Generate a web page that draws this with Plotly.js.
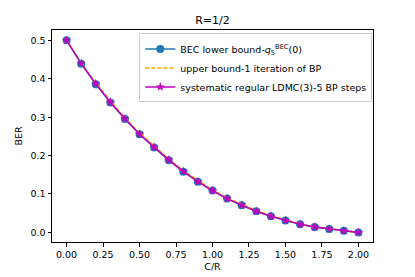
<!DOCTYPE html>
<html>
<head>
<meta charset="utf-8">
<script src="https://cdn.plot.ly/plotly-3.0.1.min.js"></script>
<style>html,body{margin:0;padding:0;background:#fff;}#chart{width:415px;height:277px;}</style>
</head>
<body>
<div id="chart"></div>
<script>
const cr = [0.0,0.1,0.2,0.3,0.4,0.5,0.6,0.7,0.8,0.9,1.0,1.1,1.2,1.3,1.4,1.5,1.6,1.7,1.8,1.9,2.0];
const becLower = [0.5,0.439,0.386,0.338,0.295,0.2555,0.221,0.188,0.158,0.132,0.109,0.088,0.0706,0.055,0.042,0.031,0.021,0.014,0.009,0.004,0.0];
const upperBound = [0.5,0.441,0.389,0.342,0.298,0.259,0.224,0.191,0.161,0.135,0.111,0.090,0.073,0.057,0.044,0.032,0.022,0.015,0.009,0.004,0.0];
const ldmc = [0.5,0.44,0.387,0.339,0.296,0.256,0.222,0.189,0.159,0.132,0.109,0.088,0.071,0.055,0.042,0.031,0.021,0.014,0.009,0.004,0.0];
const xTicks = [0,0.25,0.5,0.75,1.0,1.25,1.5,1.75,2.0];
const xTickText = ['0.00','0.25','0.50','0.75','1.00','1.25','1.50','1.75','2.00'];
const yTicks = [0,0.1,0.2,0.3,0.4,0.5];
const yTickText = ['0.0','0.1','0.2','0.3','0.4','0.5'];

const traces = [
  {x: cr, y: becLower, mode: 'lines+markers', name: 'BEC lower bound-<i>q</i><sub>5</sub><sup>BEC</sup>(0)',
   line: {color: '#1f77b4', width: 1.5}, marker: {symbol: 'circle', size: 8, color: '#1f77b4'}},
  {x: cr, y: upperBound, mode: 'lines', name: 'upper bound-1 iteration of BP',
   line: {color: '#ffa500', width: 1.5, dash: '4px,2px'}},
  {x: cr, y: ldmc, mode: 'lines+markers', name: 'systematic regular LDMC(3)-5 BP steps',
   line: {color: '#bf00bf', width: 1.5}, marker: {symbol: 'star', size: 7, color: '#bf00bf'}}
];

const axisCommon = {showline: true, linecolor: '#000', linewidth: 1, mirror: true, ticks: 'outside',
  ticklen: 3.5, tickwidth: 1, tickcolor: '#000', showgrid: false, zeroline: false,
  tickfont: {size: 9.5, color: '#000'}};

const layout = {
  width: 415, height: 277,
  margin: {l: 52, r: 42, t: 30, b: 35},
  paper_bgcolor: '#fff', plot_bgcolor: '#fff',
  font: {family: 'DejaVu Sans', size: 9.5, color: '#000'},
  title: {text: 'R=1/2', font: {size: 11, color: '#000'}, x: 0.5, xref: 'paper', xanchor: 'center', y: 0.928, yref: 'container', yanchor: 'middle'},
  xaxis: Object.assign({}, axisCommon, {range: [-0.1, 2.1], tickvals: xTicks, ticktext: xTickText,
    title: {text: 'C/R', font: {size: 9.5}, standoff: 4}}),
  yaxis: Object.assign({}, axisCommon, {range: [-0.025, 0.527], tickvals: yTicks, ticktext: yTickText,
    title: {text: 'BER', font: {size: 9.5}, standoff: 6}}),
  showlegend: true,
  legend: {x: 0.272, y: 0.984, xanchor: 'left', yanchor: 'top', bgcolor: 'rgba(255,255,255,0.8)',
    bordercolor: '#cccccc', borderwidth: 1, font: {size: 9.5, color: '#000'}, tracegroupgap: 0}
};

Plotly.newPlot('chart', traces, layout, {staticPlot: true, displayModeBar: false});
</script>
</body>
</html>
